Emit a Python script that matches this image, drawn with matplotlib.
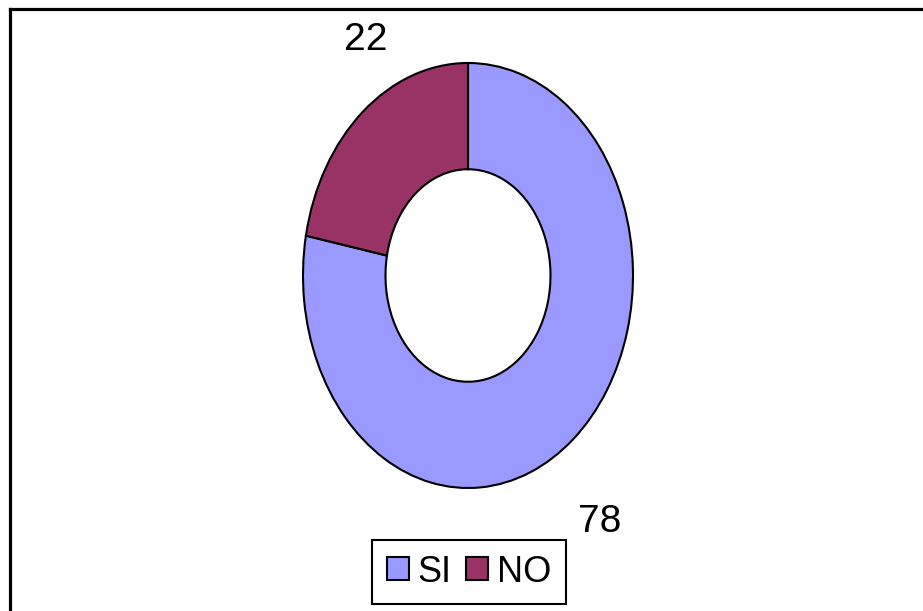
import matplotlib.pyplot as plt
from matplotlib.lines import Line2D

# datos del grafico
etiquetas = ['SI', 'NO']
valores = [78, 22]
colores = ['#9999FF', '#993366']

plt.rcParams['font.family'] = ['Liberation Sans Narrow', 'Liberation Sans', 'DejaVu Sans']

fig = plt.figure(figsize=(9.23, 6.11), dpi=100)
ax = fig.add_axes([303 / 923, 123 / 611, 330 / 923, 425 / 611])

wedges, _ = ax.pie(valores, colors=colores, startangle=90, counterclock=False,
                   radius=1, wedgeprops=dict(width=0.5, edgecolor='black', linewidth=1.5))
ax.set_aspect('auto')
ax.set_xlim(-1, 1)
ax.set_ylim(-1, 1)

# etiquetas de datos
ax.text(0.80, -1.16, str(valores[0]), fontsize=28, ha='center', va='center')
ax.text(-0.62, 1.11, str(valores[1]), fontsize=28, ha='center', va='center')

# leyenda
leg = fig.legend(wedges, etiquetas, loc='center', ncol=2,
                 bbox_to_anchor=(469 / 923, 1 - 572 / 611), fontsize=26,
                 frameon=True, fancybox=False, edgecolor='black', framealpha=1,
                 handlelength=0.6, handleheight=0.6, handletextpad=0.25,
                 columnspacing=0.4, borderpad=0.4)
leg.get_frame().set_linewidth(1.5)

# marco de la figura (solo arriba e izquierda)
fig.add_artist(Line2D([10 / 923, 1], [1 - 9 / 611, 1 - 9 / 611], color='black', lw=2.3,
                      transform=fig.transFigure))
fig.add_artist(Line2D([10 / 923, 10 / 923], [0, 1 - 9 / 611], color='black', lw=2.3,
                      transform=fig.transFigure))

fig.savefig('out.png', dpi=100)
